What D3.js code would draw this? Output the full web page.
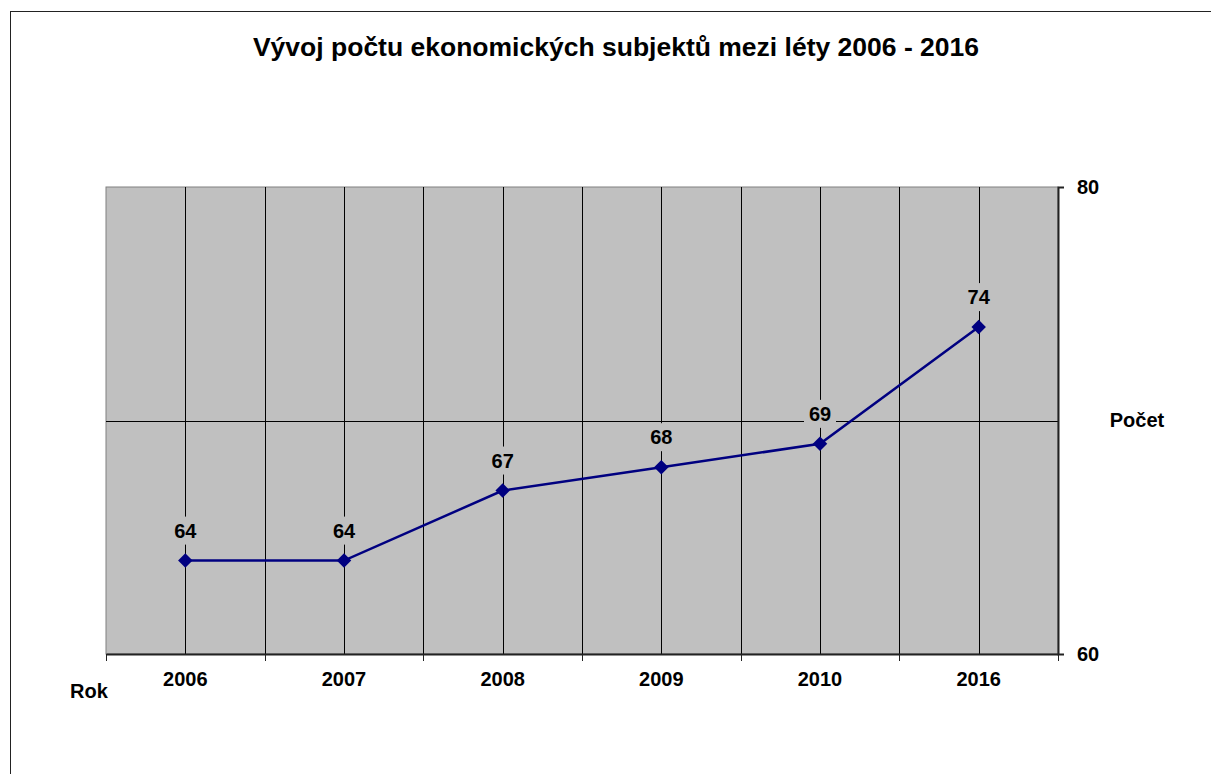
<!DOCTYPE html>
<html>
<head>
<meta charset="utf-8">
<script src="https://cdn.jsdelivr.net/npm/d3@7"></script>
<style>
  body { margin: 0; background: #fff; }
  svg { display: block; font-family: "Liberation Sans", Arial, sans-serif; }
</style>
</head>
<body>
<svg width="1211" height="774"></svg>
<script>
const years = ['2006', '2007', '2008', '2009', '2010', '2016'];
const counts = [64, 64, 67, 68, 69, 74];
const yTicks = [60, 80];

const plotLeft = 106, plotRight = 1058, plotTop = 187, plotBottom = 654;
const fontFam = '"Liberation Sans", Arial, sans-serif';

const svg = d3.select('svg');

// outer frame
svg.append('rect')
  .attr('x', 10.5).attr('y', 11.5)
  .attr('width', 1230).attr('height', 800)
  .attr('fill', 'none').attr('stroke', '#222').attr('stroke-width', 1);

const x = d3.scaleBand().domain(years).range([plotLeft, plotRight]).padding(0);
const y = d3.scaleLinear().domain([60, 80]).range([plotBottom, plotTop]);

// plot area
svg.append('rect')
  .attr('x', plotLeft).attr('y', plotTop)
  .attr('width', plotRight - plotLeft).attr('height', plotBottom - plotTop)
  .attr('fill', '#c0c0c0').attr('stroke', '#808080').attr('stroke-width', 1);

// vertical grid lines at category centres and boundaries
const gx = [];
years.forEach((d, i) => {
  if (i > 0) gx.push(x(d));
  gx.push(x(d) + x.bandwidth() / 2);
});
svg.append('g').selectAll('line')
  .data(gx).enter().append('line')
  .attr('x1', d => Math.round(d) + 0.5).attr('x2', d => Math.round(d) + 0.5)
  .attr('y1', plotTop).attr('y2', plotBottom)
  .attr('stroke', '#000').attr('stroke-width', 1);

// horizontal grid at 70
svg.append('line')
  .attr('x1', plotLeft).attr('x2', plotRight)
  .attr('y1', Math.round(y(70)) + 0.5).attr('y2', Math.round(y(70)) + 0.5)
  .attr('stroke', '#000').attr('stroke-width', 1);

// bottom axis
const xAxis = d3.axisBottom(x).tickSize(0).tickPadding(18);
const gX = svg.append('g')
  .attr('transform', 'translate(0,' + plotBottom + ')')
  .call(xAxis)
  .attr('font-size', 20).attr('font-family', fontFam).attr('font-weight', 'bold');
gX.select('.domain').attr('stroke', '#222').attr('stroke-width', 2);
gX.selectAll('text').attr('fill', '#000');
// boundary ticks
const bounds = years.map(d => x(d)).concat([plotRight]);
gX.selectAll('.btick').data(bounds).enter().append('line')
  .attr('class', 'btick')
  .attr('x1', d => Math.round(d) + 0.5).attr('x2', d => Math.round(d) + 0.5)
  .attr('y1', 0).attr('y2', 7)
  .attr('stroke', '#222');

// right axis
const yAxis = d3.axisRight(y).tickValues(yTicks).tickSize(6).tickPadding(13);
const gY = svg.append('g')
  .attr('transform', 'translate(' + plotRight + ',0)')
  .call(yAxis)
  .attr('font-size', 20).attr('font-family', fontFam).attr('font-weight', 'bold');
gY.select('.domain').attr('stroke', '#222').attr('stroke-width', 2);
gY.selectAll('.tick line').attr('stroke', '#222');
gY.selectAll('text').attr('fill', '#000');

// line
const cx = d => x(d) + x.bandwidth() / 2;
const line = d3.line().x((d, i) => cx(years[i])).y(d => y(d));
svg.append('path')
  .datum(counts)
  .attr('d', line)
  .attr('fill', 'none').attr('stroke', '#000080').attr('stroke-width', 2.5);

// markers
svg.append('g').selectAll('path')
  .data(counts).enter().append('path')
  .attr('d', d3.symbol().type(d3.symbolSquare).size(105))
  .attr('transform', (d, i) => 'translate(' + cx(years[i]) + ',' + y(d) + ') rotate(45)')
  .attr('fill', '#000080');

// value labels with plot-coloured background
const lbl = svg.append('g').selectAll('g')
  .data(counts).enter().append('g')
  .attr('transform', (d, i) => 'translate(' + cx(years[i]) + ',' + (y(d) - 30) + ')');
lbl.append('rect')
  .attr('x', -16).attr('y', -14).attr('width', 32).attr('height', 28)
  .attr('fill', '#c0c0c0');
lbl.append('text')
  .attr('text-anchor', 'middle').attr('dy', '0.36em')
  .attr('font-size', 20).attr('font-weight', 'bold')
  .text(d => d);

// title
svg.append('text')
  .attr('x', 616).attr('y', 56)
  .attr('text-anchor', 'middle')
  .attr('font-size', 26.5).attr('font-weight', 'bold')
  .text('Vývoj počtu ekonomických subjektů mezi léty 2006 - 2016');

// axis titles
svg.append('text')
  .attr('x', 89).attr('y', 698)
  .attr('text-anchor', 'middle')
  .attr('font-size', 20).attr('font-weight', 'bold')
  .text('Rok');
svg.append('text')
  .attr('x', 1137).attr('y', 427)
  .attr('text-anchor', 'middle')
  .attr('font-size', 20).attr('font-weight', 'bold')
  .text('Počet');
</script>
</body>
</html>
